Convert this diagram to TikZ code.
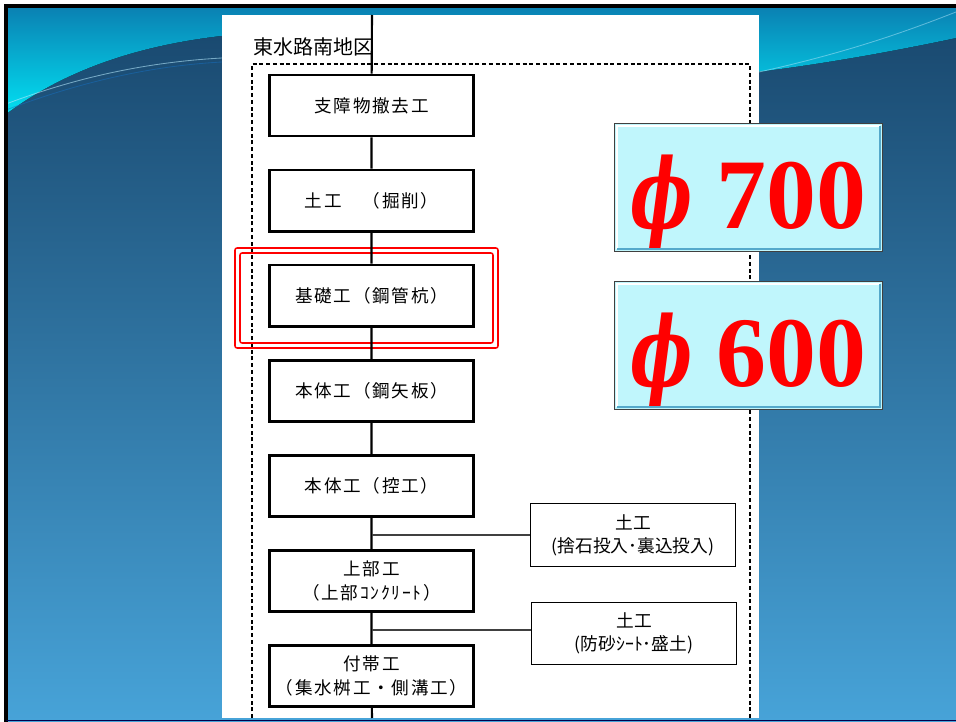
\documentclass[tikz,border=0pt]{standalone}
\usepackage{graphicx}
\usepackage{fontspec}
\newfontfamily\jpfont{Noto Sans CJK JP}
\newfontfamily\numfont{Liberation Serif}
\newfontfamily\phifont{DejaVu Serif}
\usetikzlibrary{chains,positioning,calc}

\definecolor{slidetop}{HTML}{18466C}
\definecolor{slidemid}{HTML}{2A72A4}
\definecolor{slidebot}{HTML}{47A3D8}
\definecolor{wavetop}{HTML}{0A80B2}
\definecolor{wavebot}{HTML}{02E0F2}
\definecolor{pilefill}{HTML}{C0F6FC}

\newcommand{\pilelabel}[1]{\raisebox{-29pt}[0pt][0pt]{\scalebox{0.66}[0.97]{\phifont\bfseries\itshape ϕ}\hspace{0.24em}{\numfont\bfseries #1}}}

\begin{document}
\begin{tikzpicture}[x=0.025cm, y=-0.025cm,
    task/.style={draw, line width=1.9pt, fill=white, minimum width=5.11cm,
      minimum height=1.53cm, align=center,
      font=\jpfont\fontsize{12.5}{17}\selectfont\addfontfeature{LetterSpace=10}},
    subtask/.style={draw, line width=0.8pt, fill=white, minimum width=5.12cm,
      minimum height=1.56cm, align=center, font=\jpfont\fontsize{12.6}{16.5}\selectfont},
    pile/.style={draw=black!75, line width=1pt, fill=pilefill, minimum width=6.7cm,
      minimum height=3.2cm, text=red, font=\fontsize{71}{71}\selectfont},
    trunk/.style={line width=1.5pt},
    branch/.style={line width=0.8pt, black!75},
    redline/.style={red, line width=1.1pt, rounded corners=1.5pt},
    start chain=going below, node distance=0.78cm]
    \useasboundingbox (0,0) rectangle (956,722);
    \fill[white] (0,0) rectangle (956,722);
    % slide background
    \fill[top color=slidetop, middle color=slidemid, bottom color=slidebot]
      (6,6) rectangle (956,721);
    \fill[top color=wavetop, bottom color=wavebot] (6,6) -- (956,6) -- (956,38)
      .. controls (880,54) and (810,66) .. (740,74) -- (480,60) -- (240,34)
      .. controls (150,42) and (70,66) .. (6,114) -- cycle;
    \draw[cyan!30!white, opacity=.6, line width=.6pt] (6,104) .. controls (80,76) and (150,62) .. (222,58);
    \draw[cyan!50!blue, opacity=.5, line width=.6pt] (6,110) .. controls (80,82) and (150,66) .. (222,62);
    \draw[cyan!30!white, opacity=.5, line width=.6pt] (759,72) .. controls (850,52) and (910,30) .. (956,12);
    \draw[line width=2.8pt] (6,722) -- (6,6) -- (956,6);
    \draw[black!70!blue, line width=1.4pt] (6,720.5) -- (956,720.5);
    % white panel
    \fill[white] (222,15) rectangle (759,718);
    \draw[line width=0.8pt, dash pattern=on 2.8pt off 2pt] (252,718) -- (252,64) -- (750,64) -- (750,718);
    \node[anchor=west, font=\jpfont\fontsize{14.2}{16}\selectfont] (title) at (249,47) {東水路南地区};
    \coordinate (top) at (372,15);
    \coordinate (bot) at (372,718);

    \draw[redline] (235,248) rectangle (498,348);
    \draw[redline] (240,253) rectangle (493,343);

    \node[task, on chain] (shogai) at (371.5,105.5) {支障物撤去工};
    \node[task, on chain] (kussaku) {土工　（掘削）};
    \node[task, on chain] (kiso) {基礎工（鋼管杭）};
    \node[task, on chain] (yaita) {本体工（鋼矢板）};
    \node[task, on chain] (hikae) {本体工（控工）};
    \node[task, on chain] (jobu) {上部工\\（上部ｺﾝｸﾘｰﾄ）};
    \node[task, on chain] (futai) {付帯工\\（集水桝工・側溝工）};

    \draw[trunk] (top) -- (shogai) -- (kussaku) -- (kiso) -- (yaita) -- (hikae) -- (jobu) -- (futai) -- (bot);

    \node[subtask] (ishi) at (633,535) {土工\\(捨石投入･裏込投入)};
    \node[subtask] (bosa) at (634,633.5) {土工\\(防砂ｼｰﾄ･盛土)};
    \coordinate (ja) at (372,535);
    \coordinate (jb) at (372,630);
    \draw[branch] (ja) -- (ishi);
    \draw[branch] (jb) -- (jb -| bosa.west);

    \node[pile] (p700) at (748.5,187.5) {\pilelabel{700}};
    \node[pile] (p600) at (748.5,345.5) {\pilelabel{600}};
    \foreach \bx in {p700,p600} {
      \draw[white, line width=1.2pt] ([shift={(3,-3)}]\bx.south west) -- ([shift={(3,3)}]\bx.north west) -- ([shift={(-3,3)}]\bx.north east);
      \draw[cyan!60!gray, line width=1.2pt] ([shift={(-3,3)}]\bx.north east) -- ([shift={(-3,-3)}]\bx.south east) -- ([shift={(3,-3)}]\bx.south west);
    }
\end{tikzpicture}
\end{document}
